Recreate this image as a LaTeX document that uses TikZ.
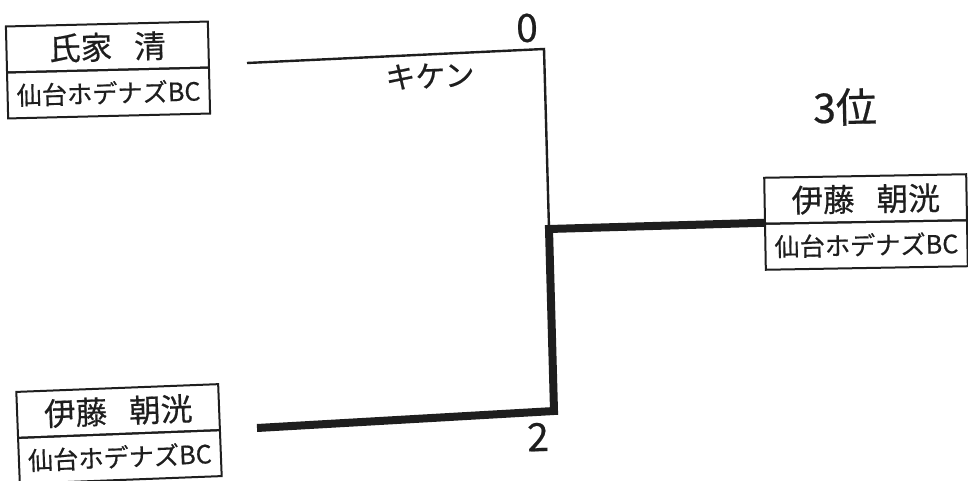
\documentclass[tikz,border=0pt]{standalone}
\usepackage{fontspec}
\newfontfamily\jp[FakeBold=0.5]{Noto Sans CJK JP}
\definecolor{ink}{HTML}{1E1E1E}
\newcommand{\gapsp}{\hspace{0.7em}}
\begin{document}
\begin{tikzpicture}[x=1pt,y=-1pt,
  boxpart/.style={draw=ink,line width=2pt,minimum width=202pt,minimum height=46pt,inner sep=0pt,text=ink},
  namebox/.style={boxpart,font=\jp\fontsize{31.5}{31.5}\selectfont},
  clubbox/.style={boxpart,font=\jp\fontsize{25.2}{25.2}\selectfont},
  thinline/.style={draw=ink,line width=2.4pt,line join=miter},
  thickline/.style={draw=ink,line width=8pt,line join=miter},
  score/.style={text=ink,inner sep=0pt,font=\jp\fontsize{39}{39}\selectfont},
  note/.style={text=ink,inner sep=0pt,font=\jp\fontsize{30}{30}\selectfont}]
\useasboundingbox[fill=white] (0,0) rectangle (968,481);
% player boxes
\begin{scope}[shift={(108,70)},rotate=1.4,transform shape]
  \node[namebox] (n1) at (0,-23) {氏家\gapsp 清};
  \node[clubbox] (c1) at (0,23) {仙台ホデナズBC};
\end{scope}
\begin{scope}[shift={(866,222)},rotate=1.0,transform shape]
  \node[namebox] (n2) at (0,-23) {伊藤\gapsp 朝洸};
  \node[clubbox] (c2) at (0,23) {仙台ホデナズBC};
\end{scope}
\begin{scope}[shift={(119,434)},rotate=2.2,transform shape]
  \node[namebox] (n3) at (0,-23) {伊藤\gapsp 朝洸};
  \node[clubbox] (c3) at (0,23) {仙台ホデナズBC};
\end{scope}
% bracket
\coordinate (s1) at (247,63);
\coordinate (t1) at (544,49);
\coordinate (jm) at (549,229);
\coordinate (s3) at (257,428);
\coordinate (t3) at (554,411);
\draw[thinline] (s1) -- (t1) -- (jm);
\draw[thickline] (s3) -- (t3) -- (jm) -- (c2.north west);
% labels
\node[score,rotate=1.5] (sc1) at (527,28) {0};
\node[score,rotate=1.5] (sc3) at (538,437) {2};
\node[note,rotate=2] (kk) at (430,76) {キケン};
\node[score,font=\jp\fontsize{41}{41}\selectfont,rotate=1] (rank) at (845,107) {3位};
\end{tikzpicture}
\end{document}
